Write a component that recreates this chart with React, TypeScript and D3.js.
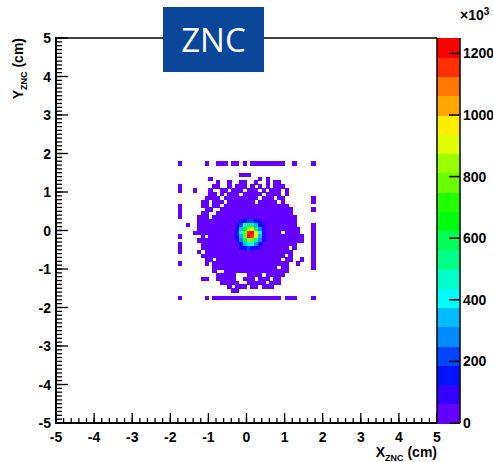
import React from 'react';
import * as d3 from 'd3';

const W = 493;
const H = 462;

// axis ranges and ticks
const xDomain = [-5, 5];
const yDomain = [-5, 5];
const xMajorTicks = [-5, -4, -3, -2, -1, 0, 1, 2, 3, 4, 5];
const yMajorTicks = [-5, -4, -3, -2, -1, 0, 1, 2, 3, 4, 5];
const zTicks = [0, 200, 400, 600, 800, 1000, 1200];
const zMax = 1250; // x10^3
const nLevels = 20;

// 2D histogram, 0.1 cm bins. '#' = occupied bin with low content (x10^3)
const binSize = 0.1;
const haloX0 = -1.9; // left edge of first column
const haloYTop = 1.7; // lower edge of first row (rows go downward)
const haloCount = 15;
const haloRows = [
  '.#......#..###.##.#.#########..#....#.',
  '......................................',
  '......................................',
  '.................###..................',
  '.........#............#.#.............',
  '...........#..#..##..#..#.##..........',
  '.#........##..#.###.#.#.#.###.........',
  '.#...#...#..##.###.###.#.###.#........',
  '.........##.#.###.#####.####.#........',
  '........####.#########.###.##.......#.',
  '.......##.###.#######.#####.#.......#.',
  '.#.....##.##.#################........',
  '.#......##..###################.....#.',
  '.#.....##..####################.......',
  '.#....###.######################......',
  '......##########################......',
  '...#..##########################....#.',
  '......###########################...#.',
  '.....#######################.####...#.',
  '.#.....#.#########################..#.',
  '......############################..#.',
  '.#.....#########################....#.',
  '.#.....#######################.#....#.',
  '.#....#.#######################.....#.',
  '.......######################.#.....#.',
  '........##.#################.##..#..#.',
  '.#......#.####################..#...#.',
  '..........#################.##......#.',
  '..........#..#################........',
  '...........#####...####.#####.........',
  '.......##..#####..###.###.##..........',
  '............#####..#####.###..........',
  '..............#.###.##.###............',
  '...............##.....................',
  '......................................',
  '.#......#.##################.###....#.',
  '......................................',
];

// central hot spot counts (x10^3), columns from x=-0.3, rows from y=0.2 downward
const coreX0 = -0.3;
const coreYTop = 0.2;
const coreCounts = [
  [50, 90, 150, 200, 190, 130, 70, 40],
  [80, 200, 380, 520, 500, 350, 180, 70],
  [110, 320, 640, 860, 880, 620, 300, 100],
  [130, 380, 800, 1180, 1240, 940, 380, 120],
  [130, 370, 780, 1210, 1130, 900, 360, 110],
  [100, 290, 580, 820, 780, 560, 260, 90],
  [60, 170, 320, 440, 420, 300, 150, 60],
  [35, 80, 140, 190, 170, 120, 70, 35],
];

const FONT = '"Liberation Sans", Arial, sans-serif';

function levelColor(v: number) {
  const j = Math.max(0, Math.min(nLevels - 1, Math.floor(v / (zMax / nLevels))));
  const idx = Math.floor(((j + 0.99) * 50) / nLevels);
  const hue = 280 - (idx + 1) * 5.6;
  return d3.hsl(hue, 1, 0.5).formatHex();
}

export default function App() {
  const x = d3.scaleLinear().domain(xDomain).range([56, 437]);
  const y = d3.scaleLinear().domain(yDomain).range([423, 38]);
  const z = d3.scaleLinear().domain([0, zMax]).range([423, 38]);

  const cells = new Map<string, { x0: number; y0: number; v: number }>();
  haloRows.forEach((row, i) => {
    const y0 = +(haloYTop - i * binSize).toFixed(2);
    row.split('').forEach((ch, j) => {
      if (ch !== '#') return;
      const x0 = +(haloX0 + j * binSize).toFixed(2);
      cells.set(`${x0}|${y0}`, { x0, y0, v: haloCount });
    });
  });
  coreCounts.forEach((row, i) => {
    const y0 = +(coreYTop - i * binSize).toFixed(2);
    row.forEach((v, j) => {
      const x0 = +(coreX0 + j * binSize).toFixed(2);
      cells.set(`${x0}|${y0}`, { x0, y0, v });
    });
  });
  const cellList = Array.from(cells.values());

  const xMinor = d3.range(-50, 51, 2).map((d) => d / 10);
  const yMinor = d3.range(-50, 51, 1).map((d) => d / 10);
  const levels = d3.range(nLevels).map((j) => j * (zMax / nLevels));

  return (
    <svg width={W} height={H} style={{ position: 'absolute', left: 0, top: 0, background: '#fff' }}>
      {/* histogram cells */}
      <g shapeRendering="crispEdges">
        {cellList.map((c, i) => (
          <rect
            key={i}
            x={x(c.x0)}
            y={y(c.y0 + binSize)}
            width={x(c.x0 + binSize) - x(c.x0) + 0.5}
            height={y(c.y0) - y(c.y0 + binSize) + 0.5}
            fill={levelColor(c.v)}
          />
        ))}
      </g>

      {/* color bar */}
      <g shapeRendering="crispEdges">
        {levels.map((lv, j) => (
          <rect
            key={j}
            x={437}
            y={z(lv + zMax / nLevels)}
            width={23}
            height={z(lv) - z(lv + zMax / nLevels) + 0.5}
            fill={levelColor(lv + 1)}
          />
        ))}
      </g>
      <line x1={460} x2={460} y1={38} y2={423} stroke="#000" strokeWidth={1.5} />
      {zTicks.map((t) => (
        <g key={t}>
          <line x1={449} x2={460} y1={z(t)} y2={z(t)} stroke="#000" strokeWidth={1.5} />
          <text x={463} y={z(t) + 5} fontFamily={FONT} fontWeight="bold" fontSize={14} fill="#000">
            {t}
          </text>
        </g>
      ))}
      <text x={460} y={20} fontFamily={FONT} fontWeight="bold" fontSize={14} fill="#000">
        ×10
        <tspan dy={-5} fontSize={10}>3</tspan>
      </text>

      {/* frame */}
      <line x1={56} x2={437} y1={38} y2={38} stroke="#000" strokeWidth={1.5} />
      <line x1={437} x2={437} y1={38} y2={423} stroke="#000" strokeWidth={1.5} />
      <line x1={56} x2={56} y1={37} y2={424} stroke="#000" strokeWidth={2} />
      <line x1={55} x2={437} y1={423} y2={423} stroke="#000" strokeWidth={2} />

      {/* x ticks */}
      {xMinor.map((t) => (
        <line key={'xm' + t} x1={x(t)} x2={x(t)} y1={423} y2={418} stroke="#000" strokeWidth={1.3} />
      ))}
      {xMajorTicks.map((t) => (
        <g key={'xM' + t}>
          <line x1={x(t)} x2={x(t)} y1={423} y2={413} stroke="#000" strokeWidth={1.3} />
          <text x={x(t)} y={442} textAnchor="middle" fontFamily={FONT} fontWeight="bold" fontSize={14} fill="#000">
            {t}
          </text>
        </g>
      ))}

      {/* y ticks */}
      {yMinor.map((t) => (
        <line key={'ym' + t} x1={56} x2={62} y1={y(t)} y2={y(t)} stroke="#000" strokeWidth={1.3} />
      ))}
      {yMajorTicks.map((t) => (
        <g key={'yM' + t}>
          <line x1={56} x2={68} y1={y(t)} y2={y(t)} stroke="#000" strokeWidth={1.3} />
          <text x={51} y={y(t) + 5} textAnchor="end" fontFamily={FONT} fontWeight="bold" fontSize={14} fill="#000">
            {t}
          </text>
        </g>
      ))}

      {/* axis titles */}
      <text x={437} y={457} textAnchor="end" fontFamily={FONT} fontWeight="bold" fontSize={14} fill="#000">
        X
        <tspan dy={4} fontSize={9}>ZNC</tspan>
        <tspan dy={-4}> (cm)</tspan>
      </text>
      <text
        transform="translate(23,38) rotate(-90)"
        textAnchor="end"
        fontFamily={FONT}
        fontWeight="bold"
        fontSize={14}
        fill="#000"
      >
        Y
        <tspan dy={4} fontSize={9}>ZNC</tspan>
        <tspan dy={-4}> (cm)</tspan>
      </text>

      {/* title box */}
      <rect x={163} y={7} width={101} height={65} fill="#0a469a" />
      <text x={213.5} y={52} textAnchor="middle" fontFamily='"Open Sans", sans-serif' fontSize={33} fill="#fff">
        ZNC
      </text>
    </svg>
  );
}
